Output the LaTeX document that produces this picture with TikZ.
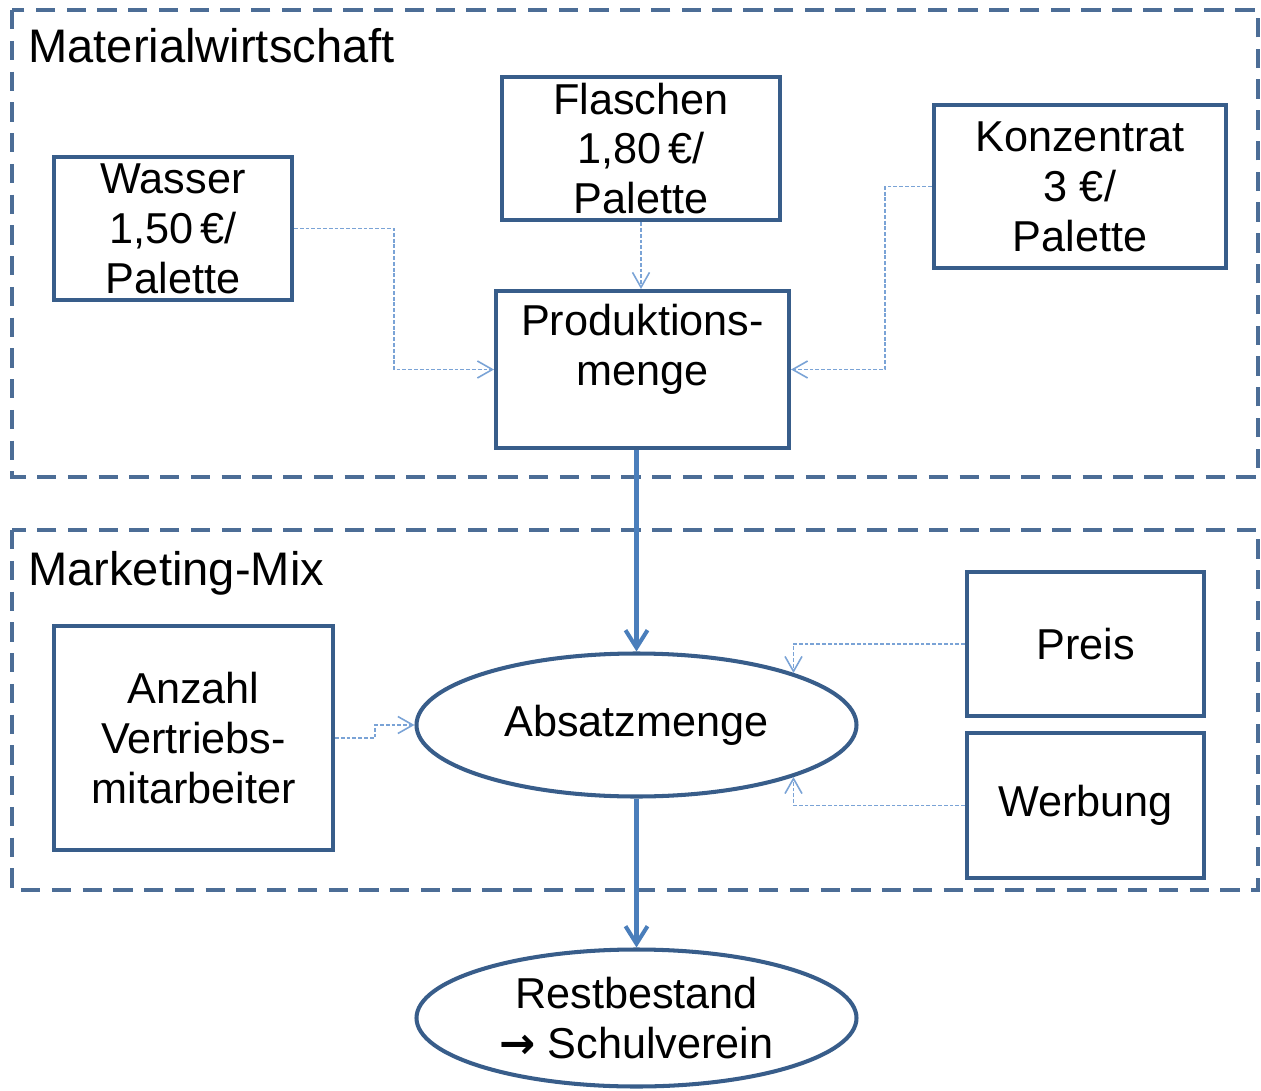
\documentclass[tikz,border=0pt]{standalone}
\usepackage{fontspec}
\setmainfont{Liberation Sans}
\newfontfamily\pfeilfont{DejaVu Sans}
\usepackage{tikz}
\usetikzlibrary{arrows.meta,shapes.geometric}

\definecolor{rand}{HTML}{385D8A}
\definecolor{pfeil}{HTML}{4A7EBB}
\definecolor{hell}{HTML}{7AA3D6}

\begin{document}
\begin{tikzpicture}
\useasboundingbox (0,0) rectangle (25.22,-21.82);

\tikzstyle{box}=[rectangle, draw=rand, line width=2.3pt, align=center,
    font=\fontsize{24.6}{28.4}\selectfont]
\tikzstyle{oval}=[ellipse, draw=rand, line width=2.3pt, align=center,
    inner sep=0pt, font=\fontsize{24.6}{28.4}\selectfont]
\tikzstyle{frame}=[draw=rand!90!white, line width=2.3pt,
    dash pattern=on 11pt off 6.5pt]
\tikzstyle{titel}=[anchor=base west, inner sep=0pt,
    font=\fontsize{26.8}{30}\selectfont]
\tikzstyle{link}=[draw=hell, line width=0.9pt, dash pattern=on 2.2pt off 1.1pt,
    -{Straight Barb[length=3mm,width=3.4mm]}]
\tikzstyle{flow}=[draw=pfeil, line width=2.3pt,
    -{Straight Barb[length=3.5mm,width=4.4mm]}]

% Materialwirtschaft
\draw[frame] (0.24,-0.2) rectangle (25.16,-9.54);
\node[titel] (t1) at (0.56,-1.24) {Materialwirtschaft};

\node[box, minimum width=4.76cm, minimum height=2.86cm] (wa) at (3.46,-4.57)
    {Wasser\\1,50\,€/\\Palette};
\node[box, minimum width=5.56cm, minimum height=2.86cm] (fl) at (12.82,-2.97)
    {Flaschen\\1,80\,€/\\Palette};
\node[box, minimum width=5.84cm, minimum height=3.26cm] (ko) at (21.6,-3.73)
    {Konzentrat\\3 €/\\Palette};
\node[box, minimum width=5.86cm, minimum height=3.14cm] (pm) at (12.85,-7.39)
    {Produktions-\\menge\\\mbox{}};

\draw[link] (wa.east) -- ++(2.0,0) |- (pm.west);
\draw[link] (fl.south) -- (fl.south |- pm.north);
\draw[link] (ko.west) -- ++(-0.94,0) |- (pm.east);

% Marketing-Mix
\draw[frame] (0.24,-10.6) rectangle (25.16,-17.8);
\node[titel] (t2) at (0.56,-11.7) {Marketing-Mix};

\node[box, minimum width=5.58cm, minimum height=4.48cm] (av) at (3.87,-14.76)
    {Anzahl\\Vertriebs-\\mitarbeiter};
\node[oval, minimum width=8.8cm, minimum height=2.86cm] (am) at (12.73,-14.5)
    {Absatzmenge};
\node[box, minimum width=4.74cm, minimum height=2.88cm] (pr) at (21.71,-12.88)
    {Preis};
\node[box, minimum width=4.74cm, minimum height=2.9cm] (we) at (21.71,-16.11)
    {Werbung};

\draw[link] (av.east) -- ++(0.8,0) |- (am.west);
\draw[link] (pr.west) -| (am.north east);
\draw[link] (we.west) -| (am.south east);

\node[oval, minimum width=8.8cm, minimum height=2.74cm] (rb) at (12.73,-20.36)
    {Restbestand\\{\pfeilfont\bfseries →}\ Schulverein};

\draw[flow] (pm.south -| am.north) -- (am.north);
\draw[flow] (am.south) -- (rb.north);
\end{tikzpicture}
\end{document}
